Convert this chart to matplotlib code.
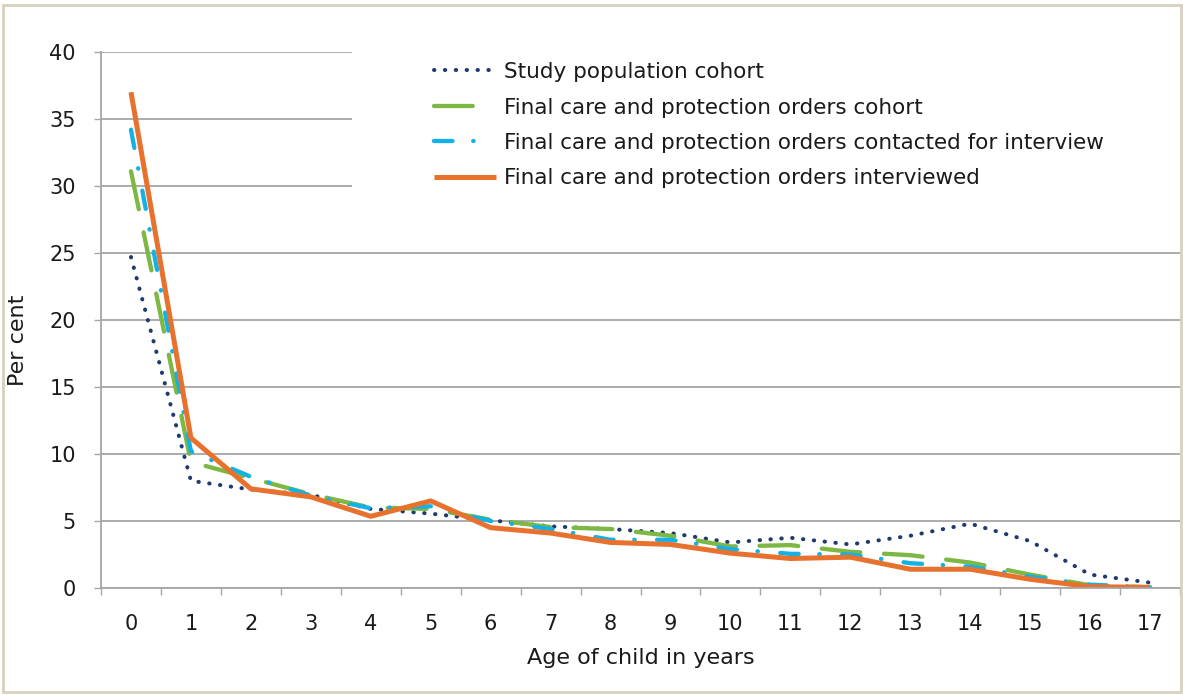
import matplotlib
matplotlib.use("Agg")
import matplotlib.pyplot as plt
from matplotlib.patches import Rectangle
from matplotlib.ticker import FixedLocator, NullFormatter

# Age of child in years
ages = list(range(18))

study_population = [24.7, 8.0, 7.35, 6.95, 5.9, 5.55, 5.05, 4.6, 4.4, 4.1,
                    3.4, 3.75, 3.25, 3.9, 4.8, 3.5, 1.0, 0.4]
final_cohort = [31.1, 9.4, 8.2, 7.0, 6.0, 5.9, 5.1, 4.55, 4.4, 3.9,
                3.1, 3.2, 2.7, 2.45, 1.9, 1.0, 0.2, 0.05]
final_contacted = [34.2, 10.2, 8.3, 6.9, 5.95, 6.1, 5.0, 4.4, 3.6, 3.6,
                   2.9, 2.55, 2.5, 1.85, 1.6, 0.85, 0.25, 0.05]
final_interviewed = [37.0, 11.2, 7.4, 6.8, 5.35, 6.5, 4.5, 4.1, 3.4, 3.25,
                     2.6, 2.2, 2.3, 1.4, 1.4, 0.65, 0.1, 0.05]

labels = [
    "Study population cohort",
    "Final care and protection orders cohort",
    "Final care and protection orders contacted for interview",
    "Final care and protection orders interviewed",
]

NAVY = "#1f3a70"
GREEN = "#7cb843"
BLUE = "#14b1e7"
ORANGE = "#e8712d"
GRID = "#a6a6a6"

plt.rcParams["font.family"] = ["DejaVu Sans"]

fig = plt.figure(figsize=(11.83, 6.95), dpi=100)
ax = fig.add_axes([101 / 1183, 107 / 695, 1079 / 1183, 536 / 695])

ax.plot(ages, study_population, color=NAVY, lw=2.9, dashes=(0.1, 2.6),
        dash_capstyle="round", label=labels[0])
ax.plot(ages, final_cohort, color=GREEN, lw=3.1, dashes=(9.0, 5.5),
        dash_capstyle="round", label=labels[1])
ax.plot(ages, final_contacted, color=BLUE, lw=3.1,
        dashes=(4.3, 4.8, 0.1, 5.2), dash_capstyle="round", label=labels[2])
ax.plot(ages, final_interviewed, color=ORANGE, lw=3.6,
        solid_capstyle="butt", label=labels[3])

ax.set_xlim(-0.5, 17.5)
ax.set_ylim(0, 40)
ax.set_yticks(range(0, 41, 5))
ax.set_xticks(ages)
ax.xaxis.set_minor_locator(FixedLocator([i - 0.5 for i in range(19)]))
ax.xaxis.set_minor_formatter(NullFormatter())

ax.grid(axis="y", color=GRID, lw=1.3, zorder=0)
ax.set_axisbelow(True)
for side in ("top", "right"):
    ax.spines[side].set_visible(False)
for side in ("left", "bottom"):
    ax.spines[side].set_color(GRID)
    ax.spines[side].set_linewidth(1.3)

ax.tick_params(axis="y", length=5, width=1, color=GRID, pad=13,
               labelsize=15, labelcolor="#1a1a1a")
ax.tick_params(axis="x", which="major", length=0, pad=19,
               labelsize=15, labelcolor="#1a1a1a")
ax.tick_params(axis="x", which="minor", length=5, width=1, color=GRID)

ax.set_ylabel("Per cent", fontsize=16, color="#1a1a1a")
ax.yaxis.set_label_coords(-0.068, 0.463)
ax.set_xlabel("Age of child in years", fontsize=16, color="#1a1a1a")
ax.xaxis.set_label_coords(0.5, -0.112)

# white legend area hiding the gridlines behind it
ax.add_patch(Rectangle((0.2326, 0.72), 0.767, 0.2795, transform=ax.transAxes,
                       facecolor="white", edgecolor="none", zorder=1))

leg = ax.legend(loc="upper left", bbox_to_anchor=(434 / 1183, 1 - 62 / 695),
                bbox_transform=fig.transFigure, frameon=False, fontsize=15.5,
                handlelength=2.9, handletextpad=0.33, labelspacing=0.72,
                borderpad=0, borderaxespad=0)
for t in leg.get_texts():
    t.set_color("#1a1a1a")

# beige outer frame
fig.patches.append(Rectangle((2.5 / 1183, 3.5 / 695), 1178 / 1183, 687 / 695,
                             transform=fig.transFigure, fill=False,
                             edgecolor="#d8cfbd", lw=2.0))

fig.savefig("out.png", dpi=100)
